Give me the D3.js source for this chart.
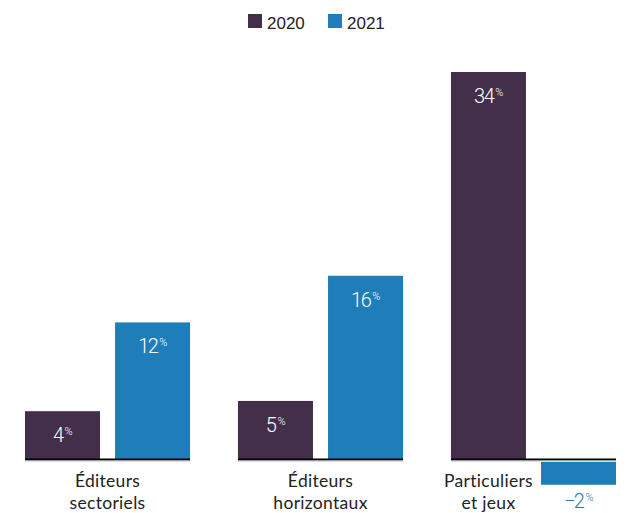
<!DOCTYPE html>
<html><head><meta charset="utf-8">
<script src="https://cdn.jsdelivr.net/npm/d3@7"></script>
<style>body{margin:0;background:#fff}svg{display:block}</style>
</head><body>
<svg id="c" width="638" height="513"></svg>
<script>
const categories = [["Éditeurs","sectoriels"],["Éditeurs","horizontaux"],["Particuliers","et jeux"]];
const categoryKeys = ["sect","horiz","part"];
const seriesNames = ["2020","2021"];
const values2020 = [4.2, 5.1, 34];
const values2021 = [12, 16.1, -2];
const labels2020 = ["4","5","34"];
const labels2021 = ["12","16","−2"];
const colors = {"2020":"#432f49","2021":"#1f7dba"};

const svg = d3.select("#c");
const x0 = d3.scaleBand().domain(categoryKeys).range([25,616]).paddingInner(0.225).paddingOuter(0);
const x1 = d3.scaleBand().domain(seriesNames).range([0,x0.bandwidth()]).paddingInner(0.167).paddingOuter(0);
const y = d3.scaleLinear().domain([0,34]).range([459,72]);

const rows = [];
categoryKeys.forEach((k,i)=>{
  rows.push({k, s:"2020", v:values2020[i], l:labels2020[i]});
  rows.push({k, s:"2021", v:values2021[i], l:labels2021[i]});
});

const font = "Roboto, sans-serif";

function valueLabel(x, yy, d, fill){
  const t = svg.append("text").attr("x",x).attr("y",yy).attr("text-anchor","middle")
    .attr("fill",fill).style("font-family",font).style("font-weight","300")
    .style("font-size","20px").style("letter-spacing","-1.5px");
  t.append("tspan").text(d.l);
  t.append("tspan").text("%").attr("dy",-7).attr("dx",2).style("font-size","11px").style("letter-spacing","-0.5px");
}

rows.forEach(d=>{
  const bx = x0(d.k)+x1(d.s), bw = x1.bandwidth();
  if (d.v >= 0) {
    svg.append("rect").attr("x",bx).attr("y",y(d.v)).attr("width",bw).attr("height",y(0)-y(d.v)).attr("fill",colors[d.s]);
    valueLabel(bx+bw/2, y(d.v)+31, d, "#fff");
  } else {
    svg.append("rect").attr("x",bx).attr("y",y(0)+3).attr("width",bw).attr("height",y(d.v)-y(0)).attr("fill",colors[d.s]);
    valueLabel(bx+bw/2, y(d.v)+26, d, colors[d.s]);
  }
});

// baselines
categoryKeys.forEach(k=>{
  svg.append("line").attr("x1",x0(k)).attr("x2",x0(k)+x0.bandwidth()).attr("y1",y(0)+0.5).attr("y2",y(0)+0.5)
    .attr("stroke","#000").attr("stroke-width",2);
  svg.append("line").attr("x1",x0(k)).attr("x2",x0(k)+x0.bandwidth()).attr("y1",y(0)+2).attr("y2",y(0)+2)
    .attr("stroke","#bbb").attr("stroke-width",1);
});

// category labels
categoryKeys.forEach((k,i)=>{
  const hasNeg = values2020[i] < 0 || values2021[i] < 0;
  const cx = hasNeg ? x0(k)+x1("2020")+x1.bandwidth()/2 : x0(k)+x0.bandwidth()/2;
  categories[i].forEach((line,j)=>{
    svg.append("text").attr("x",cx).attr("y",487+j*22).attr("text-anchor","middle")
      .attr("fill","#222").style("font-family","Lato, sans-serif").style("font-size","17.5px")
      .style("letter-spacing","0.3px").text(line);
  });
});

// legend
const legend = [{s:"2020",x:248},{s:"2021",x:328}];
legend.forEach(d=>{
  svg.append("rect").attr("x",d.x).attr("y",14).attr("width",14).attr("height",14).attr("fill",colors[d.s]);
  svg.append("text").attr("x",d.x+19).attr("y",28.5).attr("fill","#222")
    .style("font-family","'Liberation Sans',Arial,sans-serif").style("font-size","17px").text(d.s);
});
</script>
</body></html>
